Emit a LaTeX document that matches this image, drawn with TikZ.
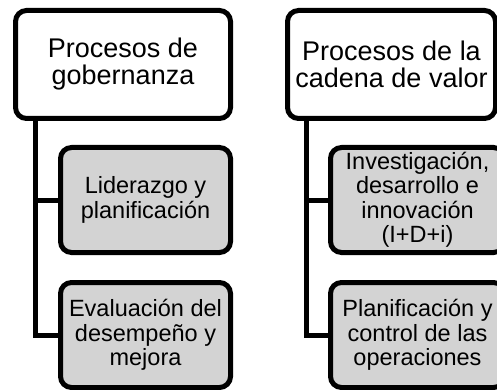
\documentclass[tikz,border=0pt]{standalone}
\usepackage{fontspec}
\setmainfont{Liberation Sans}
\definecolor{boxgray}{RGB}{211,211,211}
\tikzset{
  topbox/.style={draw=black, fill=white, line width=5pt, rounded corners=11pt, align=center, inner sep=0pt,
    font=\fontsize{27}{27}\selectfont},
  childbox/.style={draw=black, fill=boxgray, line width=5pt, rounded corners=11pt, align=center, inner sep=0pt,
    font=\fontsize{23.5}{24.5}\selectfont},
  conn/.style={draw=black, line width=5pt}
}
\begin{document}
\begin{tikzpicture}[x=1pt, y=-1pt]
\useasboundingbox (0,0) rectangle (497,390);
\clip (0,0) rectangle (497,390);
\fill[white] (0,0) rectangle (497,390);
% left column
\node[topbox, minimum width=215pt, minimum height=108pt] (lt) at (123,64.5) {Procesos de\\gobernanza};
\node[childbox, minimum width=170pt, minimum height=105pt] (l1) at (145.5,200) {Liderazgo y\\planificación};
\node[childbox, minimum width=170pt, minimum height=105pt] (l2) at (145.5,335) {Evaluación del\\desempeño y\\mejora};
% right column
\node[topbox, minimum width=208pt, minimum height=108pt] (rt) at (391.5,64.5) {Procesos de la\\cadena de valor};
\node[childbox, minimum width=174pt, minimum height=105pt] (r1) at (417.5,200) {Investigación,\\desarrollo e\\innovación\\(I+D+i)};
\node[childbox, minimum width=174pt, minimum height=105pt] (r2) at (417.5,335) {Planificación y\\control de las\\operaciones};
% connectors
\coordinate (lv) at ([xshift=22pt]lt.south west);
\coordinate (rv) at ([xshift=21pt]rt.south west);
\draw[conn] (lv) |- (l2.west);
\draw[conn] (l1.west) -- (l1.west -| lv);
\draw[conn] (rv) |- (r2.west);
\draw[conn] (r1.west) -- (r1.west -| rv);
\end{tikzpicture}
\end{document}
